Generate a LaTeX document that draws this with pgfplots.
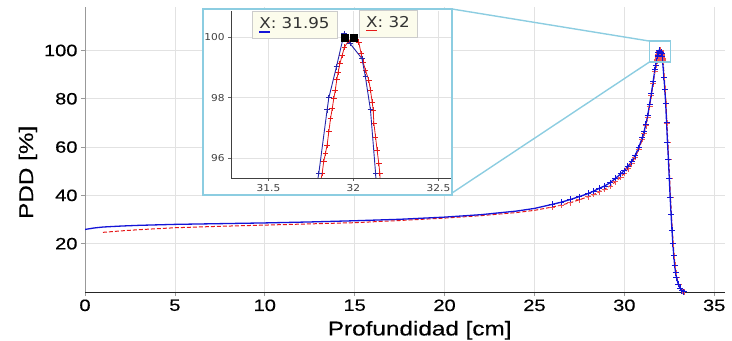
\documentclass[border=0pt]{standalone}
\usepackage{fontspec}
\setmainfont{Liberation Sans}[FakeStretch=1.22, FakeBold=0.4]
\newfontfamily\tipfont{DejaVu Sans}[FakeStretch=1.12]
\usepackage{pgfplots}
\usepackage{pgfplotstable}
\pgfplotsset{compat=1.18}
\definecolor{myblue}{RGB}{20,20,215}
\definecolor{myred}{RGB}{230,25,25}
\definecolor{frameblue}{RGB}{140,205,225}
\definecolor{gridgray}{RGB}{226,226,226}
\definecolor{tipbg}{RGB}{252,252,236}

\pgfplotstableread{
x y
0 25.9
0.5 26.5
1 26.9
2 27.3
3 27.6
4 27.8
5 28.0
7.5 28.3
10 28.6
12.5 29.0
15 29.5
17.5 30.1
20 31.0
22 32.0
24 33.5
25 34.6
26.0 36.3
26.5 37.2
27.0 38.3
27.5 39.5
28.0 40.8
28.3 41.8
28.6 42.9
28.9 43.9
29.2 45.2
29.5 47.0
29.8 48.9
30.0 50.3
30.2 52.0
30.4 54.0
30.6 56.5
30.8 59.8
31.0 64.0
31.1 66.5
31.2 69.5
31.3 73.0
31.4 77.5
31.5 82.0
31.6 87.0
31.7 92.0
31.75 94.0
31.796 95.49
31.845 97.6
31.855 98.0
31.9 99.03
31.945 100.13
31.98 99.8
32.05 99.3
32.07 98.7
32.1 97.6
32.13 95.5
32.2 89
32.25 84
32.3 78
32.35 70
32.4 62
32.45 55
32.5 47
32.55 39
32.6 32
32.65 25.5
32.7 20
32.75 15
32.8 11
32.85 8
32.9 6
33.0 3.2
33.1 1.5
33.2 0.5
33.3 0.1
}\blueT

\pgfplotstableread{
x y
1.0 24.7
2 25.3
3 25.8
5 26.6
7.5 27.2
10 27.7
12.5 28.2
15 28.7
17.5 29.6
20 30.6
22 31.6
24 32.9
25 33.8
26 35.2
26.5 36.0
27.0 37.0
27.5 38.2
28.0 39.5
28.3 40.4
28.6 41.5
28.9 42.6
29.2 43.9
29.5 45.6
29.8 47.6
30.0 49.2
30.2 51.0
30.4 53.2
30.6 55.8
30.8 59.0
31.0 63.2
31.1 65.8
31.2 68.8
31.3 72.3
31.4 76.8
31.5 81.3
31.6 86.3
31.7 91.3
31.76 93.8
31.816 95.5
31.825 95.88
31.835 96.15
31.845 96.43
31.855 96.87
31.865 97.31
31.875 97.64
31.884 97.97
31.893 98.25
31.902 98.6
31.91 98.85
31.92 99.13
31.933 99.4
31.947 99.68
31.97 99.88
32.0 100.0
32.031 99.85
32.045 99.46
32.057 99.18
32.071 98.91
32.09 98.58
32.1 98.25
32.11 97.86
32.116 97.59
32.12 97.15
32.13 96.7
32.139 96.26
32.149 95.82
32.155 95.5
32.22 89
32.27 84
32.32 78
32.37 70
32.42 62
32.47 55
32.52 47
32.57 39
32.62 32
32.67 25.5
32.72 20
32.77 15
32.82 11
32.87 8
32.92 6
33.02 3.2
33.12 1.5
33.22 0.5
33.32 0.1
}\redT

\begin{document}
\begin{tikzpicture}
\path[use as bounding box] (0,0) rectangle (732bp,341bp);
\begin{axis}[
  at={(85bp,49bp)}, anchor=south west, scale only axis,
  width=640bp, height=285bp,
  xmin=0, xmax=35.6, ymin=0, ymax=118,
  xtick={0,5,...,35}, ytick={20,40,...,100},
  grid=major, grid style={gridgray, line width=0.7bp},
  axis x line=bottom, axis y line=left,
  x axis line style={-, line width=1bp, black!85},
  y axis line style={-, line width=1bp, gray!80},
  tick align=outside, major tick length=4bp,
  tick style={gray!80, line width=0.7bp},
  /pgf/number format/assume math mode=true,
  every tick label/.append style={font=\fontsize{16.5}{17}\selectfont},
  xlabel={Profundidad [cm]}, ylabel={PDD [\%]},
  label style={font=\fontsize{20}{20}\selectfont},
  xlabel style={at={(ticklabel cs:0.523)}, yshift=-3bp},
  ylabel style={at={(ticklabel cs:0.42)}},
  clip mode=individual,
]
\addplot[myred, line width=1bp, dash pattern=on 4bp off 2bp] table {\redT};
\addplot[myblue, line width=1.3bp] table {\blueT};
\addplot[only marks, mark=+, mark size=3bp, myred!75, mark options={line width=0.8bp}, restrict x to domain=25.5:34] table {\redT};
\addplot[only marks, mark=+, mark size=3bp, myblue, mark options={line width=0.9bp}, restrict x to domain=25.5:34] table {\blueT};
\draw[frameblue, line width=1.5bp] (axis cs:31.39,95.2) rectangle (axis cs:32.56,103.9);
\coordinate (rT) at (axis cs:31.39,103.9);
\coordinate (rB) at (axis cs:31.39,95.2);
\end{axis}

\fill[white] (203bp,146bp) rectangle (452bp,332bp);
\begin{axis}[
  at={(231bp,163bp)}, anchor=south west, scale only axis,
  width=221bp, height=167bp,
  xmin=31.28, xmax=32.58, ymin=95.34, ymax=100.88,
  xtick={31.5,32,32.5}, ytick={96,98,100},
  grid=major, grid style={gridgray, line width=0.6bp},
  axis x line=bottom, axis y line=left,
  axis line style={-, line width=0.9bp, black!75},
  tick align=outside, major tick length=3bp,
  tick style={black!60, line width=0.6bp},
  /pgf/number format/assume math mode=true,
  every tick label/.append style={font=\tipfont\fontsize{9.5}{10}\selectfont, text=black!75},
  clip mode=individual,
]
\addplot[myred, line width=0.8bp, mark=+, mark size=2.8bp, mark options={line width=0.8bp, solid}] table {\redT};
\addplot[myblue!75!black!90, line width=0.9bp, mark=+, mark size=2.8bp, mark options={line width=0.8bp}] table {\blueT};
\addplot[only marks, mark=square*, mark size=3.3bp, black] coordinates {(31.95,100) (32.0,100)};
\node[draw=gray!40, fill=tipbg, line width=0.5bp, minimum width=85bp, minimum height=27bp, inner sep=1bp, font=\tipfont\fontsize{15}{15}\selectfont, text=black!80]
  at (axis cs:31.653,100.41) {\rlap{\color{myblue}\rule[-4bp]{11bp}{1.2bp}}X: 31.95};
\node[draw=gray!40, fill=tipbg, line width=0.5bp, minimum width=58bp, minimum height=27bp, inner sep=1bp, font=\tipfont\fontsize{15}{15}\selectfont, text=black!80]
  at (axis cs:32.203,100.45) {\rlap{\color{myred}\rule[-4bp]{11bp}{1.2bp}}X: 32};
\end{axis}
\draw[frameblue, line width=1.8bp] (203bp,146bp) rectangle (452bp,332bp);
\draw[frameblue, line width=1.4bp] (452bp,332bp) -- (rT);
\draw[frameblue, line width=1.4bp] (452bp,148bp) -- (rB);
\end{tikzpicture}
\end{document}
